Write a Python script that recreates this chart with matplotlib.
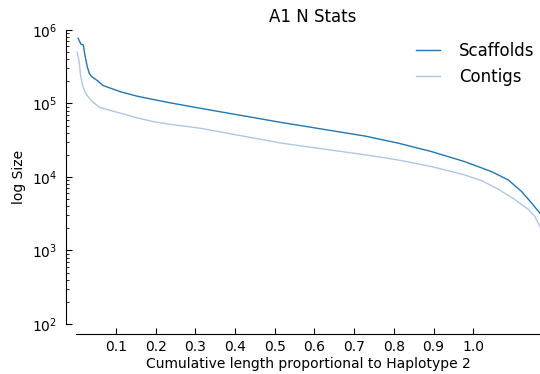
import numpy as np
import matplotlib
matplotlib.use("Agg")
import matplotlib.pyplot as plt

# cumulative length (fraction of haplotype 2) and N-stat size
scaf_x = [0.005, 0.012, 0.018, 0.022, 0.028, 0.033, 0.039, 0.051, 0.068, 0.110,
          0.152, 0.194, 0.236, 0.312, 0.517, 0.727, 0.811, 0.895, 0.979, 1.046,
          1.088, 1.122, 1.147, 1.168]
scaf_y = [7.7e5, 6.4e5, 6.25e5, 4.57e5, 3.17e5, 2.57e5, 2.32e5, 2.09e5, 1.75e5, 1.45e5,
          1.26e5, 1.13e5, 1.02e5, 8.6e4, 5.5e4, 3.6e4, 2.88e4, 2.21e4, 1.61e4, 1.18e4,
          9.1e3, 6.3e3, 4.4e3, 3.2e3]

cont_x = [0.0025, 0.0076, 0.011, 0.016, 0.022, 0.030, 0.039, 0.051, 0.060, 0.110,
          0.152, 0.194, 0.236, 0.312, 0.517, 0.727, 0.811, 0.895, 0.979, 1.021,
          1.063, 1.105, 1.139, 1.155, 1.168]
cont_y = [4.98e5, 3.7e5, 2.44e5, 1.79e5, 1.45e5, 1.24e5, 1.08e5, 9.55e4, 8.8e4, 7.4e4,
          6.4e4, 5.65e4, 5.2e4, 4.6e4, 2.88e4, 2.0e4, 1.7e4, 1.38e4, 1.06e4, 8.9e3,
          6.8e3, 4.9e3, 3.6e3, 2.9e3, 2.1e3]

xticks = [0.1, 0.2, 0.3, 0.4, 0.5, 0.6, 0.7, 0.8, 0.9, 1.0]

fig = plt.figure(figsize=(5.4, 3.74), dpi=100)
ax = fig.add_axes([0.141, 0.134, 0.859, 0.786])

ax.plot(scaf_x, scaf_y, color="#1f77b4", lw=1.0, label="Scaffolds")
ax.plot(cont_x, cont_y, color="#aec7e8", lw=1.0, label="Contigs")

ax.set_yscale("log")
ax.set_xlim(0, 1.168)
ax.set_ylim(1e2, 1e6)
ax.set_xticks(xticks)
ax.set_xticklabels([f"{t:.1f}" for t in xticks])

# offset spines like despine
for s in ["top", "right"]:
    ax.spines[s].set_visible(False)
ax.spines["left"].set_position(("outward", 7.5))
ax.spines["bottom"].set_position(("outward", 7.5))
ax.spines["left"].set_bounds(1e2, 1e6)

ax.tick_params(axis="both", which="both", direction="in", labelsize=10)
ax.tick_params(axis="y", which="major", length=4, pad=6)
ax.tick_params(axis="x", which="major", length=4, pad=4)
ax.tick_params(axis="y", which="minor", length=2)

ax.set_xlabel("Cumulative length proportional to Haplotype 2", fontsize=10, labelpad=2)
ax.set_ylabel("log Size", fontsize=10)
ax.set_title("A1 N Stats", fontsize=12, pad=6, x=0.51)
ax.legend(loc="upper right", frameon=False, fontsize=12, handlelength=1.45,
          handletextpad=1.1, bbox_to_anchor=(1.02, 1.01))

fig.savefig("out.png", dpi=100)
